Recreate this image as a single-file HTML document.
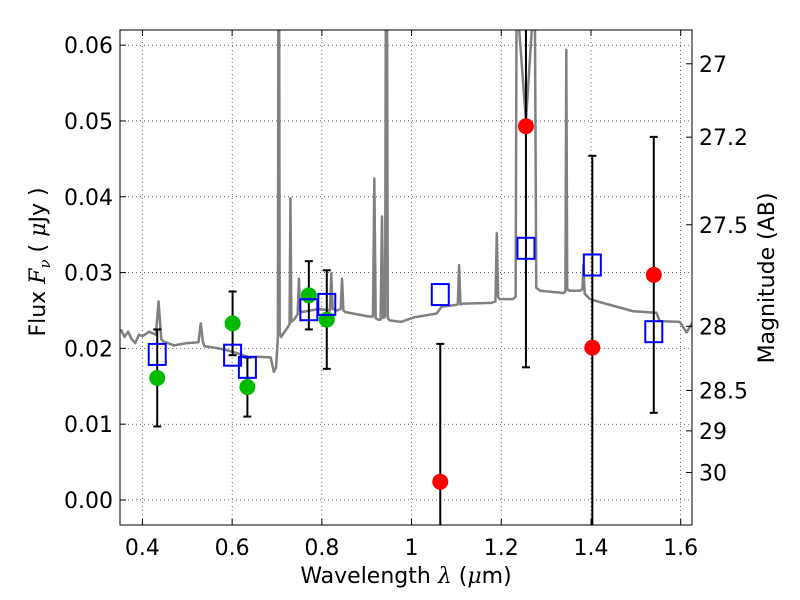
<!DOCTYPE html>
<html><head><meta charset="utf-8"><style>
body{margin:0;background:#fff}
svg{display:block;font-family:"DejaVu Sans","Liberation Sans",sans-serif}
</style></head><body>
<svg id="chart" width="800" height="600" viewBox="0 0 800 600"></svg>
<script>
const specLam=[0.352,0.36,0.368,0.376,0.384,0.392,0.40,0.415,0.43,0.436,0.442,0.447,0.47,0.50,0.525,0.530,0.535,0.538,0.56,0.586,0.61,0.637,0.66,0.686,0.693,0.698,0.702,0.704,0.706,0.709,0.723,0.728,0.730,0.732,0.738,0.746,0.749,0.751,0.756,0.793,0.818,0.821,0.824,0.834,0.842,0.845,0.848,0.852,0.904,0.914,0.917,0.920,0.925,0.931,0.934,0.937,0.941,0.944,0.947,0.951,0.977,1.006,1.056,1.067,1.096,1.103,1.106,1.109,1.115,1.178,1.187,1.190,1.193,1.196,1.226,1.232,1.236,1.240,1.255,1.268,1.272,1.278,1.287,1.339,1.343,1.345,1.347,1.353,1.375,1.381,1.383,1.386,1.398,1.420,1.494,1.546,1.553,1.598,1.613,1.628];
const specFlux=[0.0225,0.0215,0.0222,0.0212,0.0207,0.0218,0.0216,0.0222,0.0218,0.0262,0.0212,0.0209,0.0204,0.0207,0.0208,0.0233,0.0208,0.0203,0.0201,0.0198,0.0194,0.0188,0.0189,0.0188,0.0169,0.0175,0.0215,0.10,0.0222,0.0215,0.0227,0.0232,0.0398,0.0235,0.0238,0.0245,0.0292,0.0250,0.0248,0.0252,0.0250,0.0299,0.0252,0.0250,0.0252,0.0292,0.0250,0.0248,0.0242,0.0242,0.0424,0.0240,0.0238,0.0238,0.0374,0.0240,0.0242,0.10,0.0240,0.0237,0.0235,0.0241,0.0246,0.0255,0.0257,0.0258,0.0310,0.0258,0.0259,0.0260,0.0262,0.0352,0.0268,0.0265,0.0265,0.0268,0.10,0.062,0.050,0.062,0.10,0.028,0.0276,0.0273,0.0275,0.0594,0.0278,0.0276,0.0276,0.0278,0.0310,0.0272,0.0265,0.0261,0.0249,0.0247,0.0236,0.0235,0.0221,0.0236];
const modelLam=[0.433,0.601,0.634,0.771,0.811,1.064,1.255,1.403,1.540];
const modelFlux=[0.0192,0.0191,0.0175,0.0251,0.0258,0.0271,0.0332,0.0310,0.0222];
const obsFlux=[0.0161,0.0233,0.0149,0.0270,0.0238,0.0024,0.0493,0.0201,0.0297];
const obsErr=[0.0064,0.0042,0.0039,0.0045,0.0065,0.0182,0.0318,0.0253,0.0182];
const obsColor=['#00bb00','#00bb00','#00bb00','#00bb00','#00bb00','#ff0000','#ff0000','#ff0000','#ff0000'];
const xTicks=[0.4,0.6,0.8,1.0,1.2,1.4,1.6];
const xTickLabels=['0.4','0.6','0.8','1','1.2','1.4','1.6'];
const yTicks=[0,0.01,0.02,0.03,0.04,0.05,0.06];
const yTickLabels=['0.00','0.01','0.02','0.03','0.04','0.05','0.06'];
const magTicks=[27,27.2,27.5,28,28.5,29,30];
const magTickLabels=['27','27.2','27.5','28','28.5','29','30'];

const L=120,R=692,T=30,B=525;
const xMin=0.3500,xMax=1.6252,yMin=-0.0033,yMax=0.0620;
const X=v=>L+(v-xMin)/(xMax-xMin)*(R-L);
const Y=v=>B-(v-yMin)/(yMax-yMin)*(B-T);
const NS='http://www.w3.org/2000/svg';
const svg=document.getElementById('chart');
function mk(tag,attrs,parent){const e=document.createElementNS(NS,tag);for(const k in attrs)e.setAttribute(k,attrs[k]);(parent||svg).appendChild(e);return e;}

const defs=mk('defs',{});
const cp=mk('clipPath',{id:'clip'},defs);
mk('rect',{x:L,y:T,width:R-L,height:B-T},cp);

const grid=mk('g',{});


xTicks.forEach(v=>mk('line',{x1:X(v),x2:X(v),y1:T,y2:B,stroke:'#000','stroke-width':0.6,'stroke-dasharray':'1,3'},grid));
yTicks.forEach(v=>mk('line',{x1:L,x2:R,y1:Y(v),y2:Y(v),stroke:'#000','stroke-width':0.6,'stroke-dasharray':'1,3'},grid));

const plot=mk('g',{'clip-path':'url(#clip)'});
const sp=mk('polyline',{points:specLam.map((l,i)=>X(l)+','+Y(specFlux[i])).join(' '),fill:'none',stroke:'#808080','stroke-width':2.5,'stroke-linejoin':'round'},plot);



modelLam.forEach((l,i)=>{
  const g=mk('g',{},plot);
  
  
  const x=X(l),y1=Y(obsFlux[i]+obsErr[i]),y2=Y(obsFlux[i]-obsErr[i]);
  mk('line',{x1:x,x2:x,y1:y1,y2:y2,stroke:'#000','stroke-width':2},g);
  mk('line',{x1:x-4,x2:x+4,y1:y1,y2:y1,stroke:'#000','stroke-width':2},g);
  mk('line',{x1:x-4,x2:x+4,y1:y2,y2:y2,stroke:'#000','stroke-width':2},g);
});
modelLam.forEach((l,i)=>{
  const c=mk('circle',{cx:X(l),cy:Y(obsFlux[i]),r:8,fill:obsColor[i]},plot);
  
  
});
modelLam.forEach((l,i)=>{
  const s=mk('rect',{x:X(l)-8.5,y:Y(modelFlux[i])-10.5,width:17,height:21,fill:'none',stroke:'#0000ff','stroke-width':2},plot);
  
  
});

const fr=mk('rect',{x:L,y:T,width:R-L,height:B-T,fill:'none',stroke:'#000','stroke-width':1});



xTicks.forEach((v,i)=>{
  mk('line',{x1:X(v),x2:X(v),y1:B,y2:B-6,stroke:'#000'});
  mk('line',{x1:X(v),x2:X(v),y1:T,y2:T+6,stroke:'#000'});
  const t=mk('text',{x:X(v),y:B+30,'text-anchor':'middle','font-size':22});
  t.textContent=xTickLabels[i];
  
  
});
yTicks.forEach((v,i)=>{
  mk('line',{x1:L,x2:L+6,y1:Y(v),y2:Y(v),stroke:'#000'});
  const t=mk('text',{x:L-7,y:Y(v)+8,'text-anchor':'end','font-size':22});
  t.textContent=yTickLabels[i];
  
  
});
magTicks.forEach((m,i)=>{
  const f=Math.pow(10,(23.9-m)/2.5);
  const y=Y(f);
  mk('line',{x1:R-6,x2:R,y1:y,y2:y,stroke:'#000'});
  const t=mk('text',{x:R+7,y:y+8,'text-anchor':'start','font-size':22});
  t.textContent=magTickLabels[i];
  
  
});

const xl=mk('text',{x:406,y:583,'text-anchor':'middle','font-size':22,'xml:space':'preserve'});
xl.innerHTML='Wavelength  <tspan font-family="DejaVu Serif" font-style="italic">λ</tspan> (<tspan font-family="DejaVu Serif" font-style="italic">μ</tspan>m)';


const yl=mk('text',{x:0,y:0,'text-anchor':'middle','font-size':22,'xml:space':'preserve',transform:'translate(45,262) rotate(-90)'});
yl.innerHTML='Flux  <tspan font-family="DejaVu Serif" font-style="italic">F<tspan font-size="15" dy="5">ν</tspan></tspan><tspan dy="-5">  (  </tspan><tspan font-family="DejaVu Serif" font-style="italic">μ</tspan>Jy )';


const rl=mk('text',{x:0,y:0,'text-anchor':'middle','font-size':22,transform:'translate(774,278) rotate(-90)'});
rl.textContent='Magnitude (AB)';


</script>
</body></html>
